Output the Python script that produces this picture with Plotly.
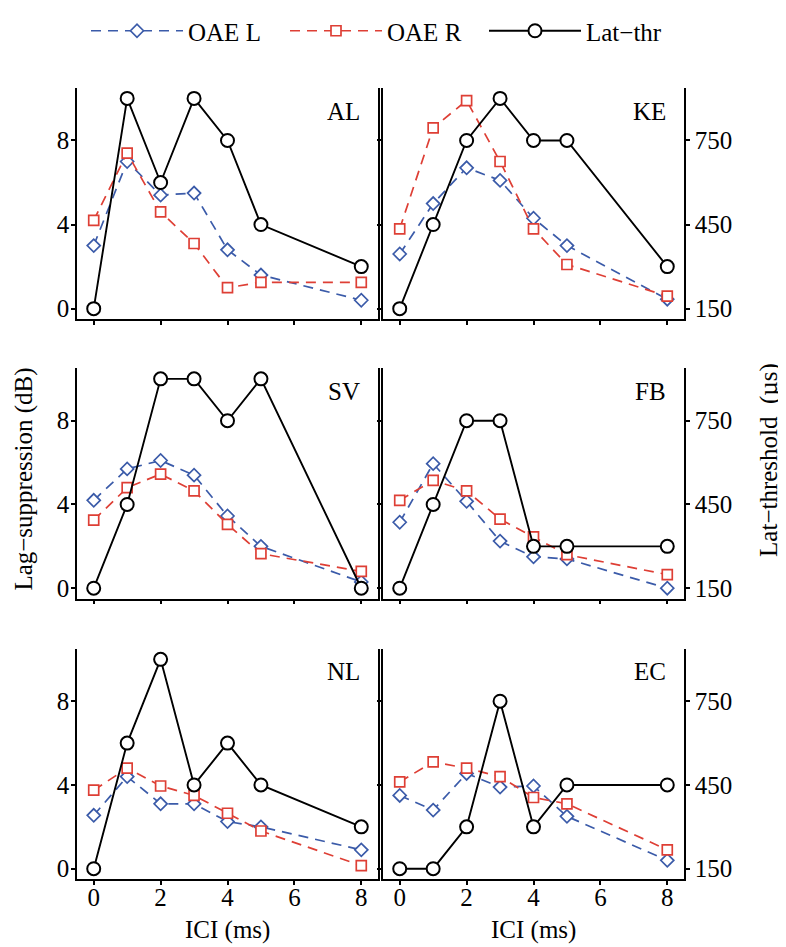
import plotly.graph_objects as go

# ICI values (ms) and subjects
ici = [0, 1, 2, 3, 4, 5, 8]
subjects = ["AL", "KE", "SV", "FB", "NL", "EC"]

# OAE lag-suppression (dB), left and right ear, and lateralization threshold (us)
al_oae_l = [3.0, 7.0, 5.4, 5.5, 2.8, 1.6, 0.4]
al_oae_r = [4.2, 7.4, 4.6, 3.1, 1.0, 1.25, 1.25]
al_lat = [150, 900, 600, 900, 750, 450, 300]

ke_oae_l = [2.6, 5.0, 6.7, 6.1, 4.3, 3.0, 0.45]
ke_oae_r = [3.8, 8.6, 9.9, 7.0, 3.8, 2.1, 0.6]
ke_lat = [150, 450, 750, 900, 750, 750, 300]

sv_oae_l = [4.2, 5.7, 6.1, 5.4, 3.45, 2.0, 0.3]
sv_oae_r = [3.25, 4.8, 5.45, 4.65, 3.05, 1.65, 0.8]
sv_lat = [150, 450, 900, 900, 750, 900, 150]

fb_oae_l = [3.15, 5.95, 4.15, 2.25, 1.5, 1.4, 0.0]
fb_oae_r = [4.2, 5.15, 4.65, 3.3, 2.45, 1.6, 0.65]
fb_lat = [150, 450, 750, 750, 300, 300, 300]

nl_oae_l = [2.55, 4.4, 3.1, 3.1, 2.25, 2.0, 0.9]
nl_oae_r = [3.75, 4.8, 3.95, 3.5, 2.65, 1.8, 0.15]
nl_lat = [150, 600, 900, 450, 600, 450, 300]

ec_oae_l = [3.5, 2.8, 4.55, 3.9, 3.95, 2.5, 0.4]
ec_oae_r = [4.15, 5.1, 4.8, 4.4, 3.4, 3.1, 0.9]
ec_lat = [150, 150, 300, 750, 300, 450, 450]

oae_l = [al_oae_l, ke_oae_l, sv_oae_l, fb_oae_l, nl_oae_l, ec_oae_l]
oae_r = [al_oae_r, ke_oae_r, sv_oae_r, fb_oae_r, nl_oae_r, ec_oae_r]
lat = [al_lat, ke_lat, sv_lat, fb_lat, nl_lat, ec_lat]

W, H = 786, 947
OFF = 8  # the page body adds an 8px margin around the plot div
cols = [(77 - OFF, 378 - OFF), (383 - OFF, 684 - OFF)]
rows = [(77 - OFF, 312 - OFF), (362 - OFF, 596 - OFF), (647 - OFF, 881 - OFF)]

BLUE = "#3b5ba9"
RED = "#de3f35"
FONT = "Liberation Serif, Times New Roman, serif"
FS = 25

fig = go.Figure()
layout = {}
annotations = []

for i, subj in enumerate(subjects):
    r, c = divmod(i, 2)
    n = i + 1
    xa = "x" if n == 1 else f"x{n}"
    ya = "y" if n == 1 else f"y{n}"
    ya2 = f"y{n + 6}"
    first = i == 0

    fig.add_trace(go.Scatter(
        x=ici, y=oae_l[i], xaxis=xa, yaxis=ya, name="OAE L", mode="lines+markers",
        line=dict(color=BLUE, width=1.7, dash="10px,7px"),
        marker=dict(symbol="diamond", size=10, color="white", line=dict(color=BLUE, width=1.7)),
        showlegend=first, legendrank=1))
    fig.add_trace(go.Scatter(
        x=ici, y=oae_r[i], xaxis=xa, yaxis=ya, name="OAE R", mode="lines+markers",
        line=dict(color=RED, width=1.7, dash="10px,7px"),
        marker=dict(symbol="square", size=10, color="white", line=dict(color=RED, width=1.7)),
        showlegend=first, legendrank=2))
    fig.add_trace(go.Scatter(
        x=ici, y=lat[i], xaxis=xa, yaxis=ya2, name="Lat\u2212thr", mode="lines+markers",
        line=dict(color="black", width=1.9),
        marker=dict(symbol="circle", size=13, color="white", line=dict(color="black", width=2)),
        showlegend=first, legendrank=3))

    x0, x1 = cols[c]
    y0, y1 = rows[r]
    common = dict(showgrid=False, zeroline=False, showline=True, linecolor="black", linewidth=1.6,
                  ticks="outside", ticklen=4, tickwidth=1.5, tickcolor="black",
                  tickfont=dict(family=FONT, size=FS, color="black"))
    layout["xaxis" if n == 1 else f"xaxis{n}"] = dict(
        domain=[x0 / W, x1 / W], anchor=ya, range=[-0.5, 8.5], tickvals=[0, 2, 4, 6, 8],
        showticklabels=(r == 2), ticklabelstandoff=-9, **common)
    layout["yaxis" if n == 1 else f"yaxis{n}"] = dict(
        domain=[1 - y1 / H, 1 - y0 / H], anchor=xa, range=[-0.5, 10.5], tickvals=[0, 4, 8],
        showticklabels=(c == 0), mirror=(c == 0), ticklabelstandoff=-3, **common)
    layout[f"yaxis{n + 6}"] = dict(
        overlaying=ya, anchor=xa, side="right", range=[112.5, 937.5], tickvals=[150, 450, 750],
        visible=(c == 1), **common)

    annotations.append(dict(
        text=subj, xref=f"{xa} domain", yref=f"{ya} domain", x=0.947, y=0.9,
        xanchor="right", yanchor="middle", showarrow=False,
        font=dict(family=FONT, size=FS, color="black")))

# axis titles
for xc in [(cols[0][0] + cols[0][1]) / 2, (cols[1][0] + cols[1][1]) / 2]:
    annotations.append(dict(text="ICI (ms)", xref="paper", yref="paper", x=xc / W,
                            y=1 - (933 - OFF) / H, xanchor="center", yanchor="middle",
                            showarrow=False, font=dict(family=FONT, size=FS, color="black")))
annotations.append(dict(text="Lag\u2212suppression (dB)", xref="paper", yref="paper",
                        x=16 / W, y=1 - (475 - OFF) / H, textangle=-90, xanchor="center",
                        yanchor="middle", showarrow=False,
                        font=dict(family=FONT, size=FS, color="black")))
annotations.append(dict(text="Lat\u2212threshold  (\u00b5s)", xref="paper", yref="paper",
                        x=(769 - OFF) / W, y=1 - (455 - OFF) / H, textangle=-90,
                        xanchor="center", yanchor="middle", showarrow=False,
                        font=dict(family=FONT, size=FS, color="black")))

fig.update_layout(
    width=W, height=H,
    margin=dict(l=0, r=0, t=0, b=0),
    paper_bgcolor="white", plot_bgcolor="white",
    font=dict(family=FONT, size=FS, color="black"),
    legend=dict(orientation="h", x=78 / W, xanchor="left", y=1 - (19 - OFF) / H,
                yanchor="middle", itemwidth=92, entrywidth=92, entrywidthmode="pixels",
                font=dict(family=FONT, size=FS, color="black"),
                bgcolor="rgba(0,0,0,0)", traceorder="normal"),
    annotations=annotations,
    **layout,
)

fig.write_html("out.html")
